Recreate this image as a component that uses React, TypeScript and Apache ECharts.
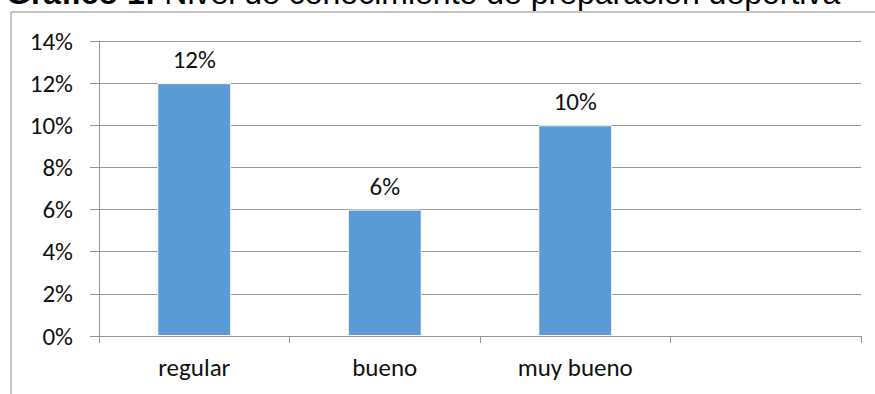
import React, { useEffect, useRef } from "react";
import * as echarts from "echarts";

const categories = ["regular", "bueno", "muy bueno", ""];
const values: (number | null)[] = [12, 6, 10, null];
const yTicks = { min: 0, max: 14, interval: 2 };
const titleBold = "Gráfico 1:";
const titleRest = " Nivel de conocimiento de preparación deportiva";

const labelFont = "Carlito, Lato, 'Open Sans', sans-serif";

export default function App() {
  const ref = useRef<HTMLDivElement>(null);
  useEffect(() => {
    if (!ref.current) return;
    const chart = echarts.init(ref.current, undefined, { renderer: "svg" });
    chart.setOption({
      animation: false,
      backgroundColor: "#ffffff",
      grid: { left: 99, right: 14, top: 41, bottom: 58, containLabel: false },
      xAxis: {
        type: "category",
        data: categories,
        boundaryGap: true,
        axisLine: { show: true, lineStyle: { color: "#969696", width: 1 } },
        axisTick: { show: true, length: 7, lineStyle: { color: "#969696" } },
        axisLabel: { color: "#111", fontSize: 25, fontFamily: labelFont, margin: 19 },
        splitLine: { show: false },
      },
      yAxis: {
        type: "value",
        min: yTicks.min,
        max: yTicks.max,
        interval: yTicks.interval,
        axisLine: { show: true, lineStyle: { color: "#969696", width: 1 } },
        axisTick: { show: true, length: 9, lineStyle: { color: "#969696" } },
        axisLabel: {
          color: "#111",
          fontSize: 25,
          fontFamily: labelFont,
          margin: 26,
          formatter: "{value}%",
        },
        splitLine: { show: true, lineStyle: { color: "#969696", width: 1 } },
      },
      series: [
        {
          type: "bar",
          data: values,
          barWidth: "38.8%",
          itemStyle: { color: "#5B9BD5", borderColor: "#ffffff", borderWidth: 1 },
          label: {
            show: true,
            position: "top",
            distance: 11,
            color: "#111",
            fontSize: 25,
            fontFamily: labelFont,
            formatter: (p: any) => (p.value == null ? "" : p.value + "%"),
          },
        },
      ],
      graphic: [
        {
          type: "rect",
          shape: { x: 11, y: 12, width: 900, height: 420 },
          style: { fill: "none", stroke: "#8c8c8c", lineWidth: 1 },
          silent: true,
          z: -1,
        },
        {
          type: "text",
          x: 6,
          y: 9,
          style: {
            text: "{b|" + titleBold + "}{r|" + titleRest + "}",
            rich: {
              b: { fontWeight: "bold", fontSize: 32, fontFamily: "'Liberation Sans', Arial, sans-serif", fill: "#000" },
              r: { fontWeight: "normal", fontSize: 32, fontFamily: "'Liberation Sans', Arial, sans-serif", fill: "#000" },
            },
            verticalAlign: "bottom",
            align: "left",
          },
        },
      ],
    });
    return () => chart.dispose();
  }, []);
  return (
    <div
      ref={ref}
      style={{ position: "absolute", left: 0, top: 0, width: 875, height: 394 }}
    />
  );
}
